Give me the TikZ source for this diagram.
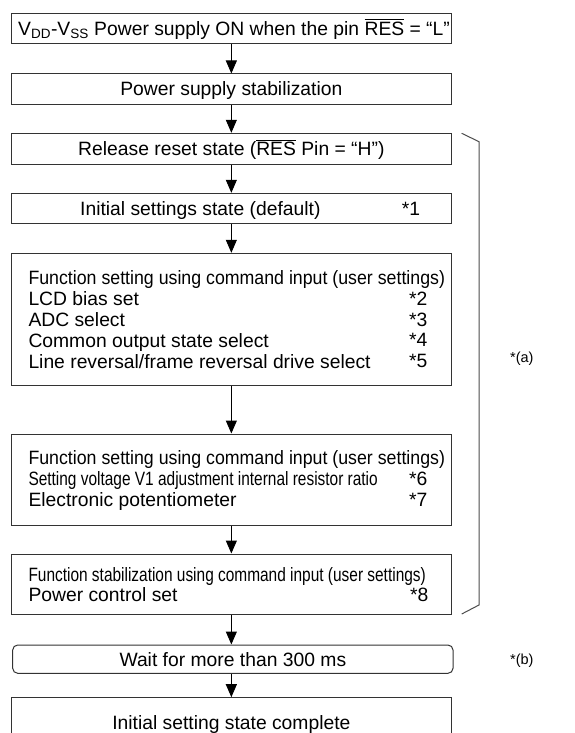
\documentclass[tikz,border=0pt]{standalone}
\usepackage{fontspec}
\setmainfont{Liberation Sans}
\usepackage{graphicx}
\usetikzlibrary{arrows.meta}
\newsavebox\ovbox
\newcommand\ovl[1]{\sbox\ovbox{#1}\rlap{\rule[\dimexpr\ht\ovbox+1.6pt\relax]{\wd\ovbox}{0.9pt}}\usebox\ovbox}
\tikzset{
  box/.style={draw=black!80, line width=1pt, inner sep=0pt, minimum width=439.3pt},
  txt/.style={inner sep=0pt, font=\fontsize{19.3}{21}\selectfont},
  lbl/.style={inner sep=0pt, font=\fontsize{14.5}{16}\selectfont},
  arr/.style={draw=black, line width=1pt, -{Triangle[length=13pt,width=11pt]}},
  brk/.style={draw=black!70, line width=1pt}
}
\begin{document}
\begin{tikzpicture}[x=1pt,y=-1pt]
\useasboundingbox (0,0) rectangle (574,733);
\clip (0,0) rectangle (574,733);
% boxes
\node[box, minimum height=30.4pt] (b1) at (231.35,28.5) {};
\node[box, minimum height=30.3pt] (b2) at (231.35,89.15) {};
\node[box, minimum height=30.7pt] (b3) at (231.35,148.65) {};
\node[box, minimum height=30pt] (b4) at (231.35,208.3) {};
\node[box, minimum height=131.7pt] (b5) at (231.35,319.15) {};
\node[box, minimum height=91pt] (b6) at (231.35,479.5) {};
\node[box, minimum height=60pt] (b7) at (231.35,584) {};
\node[box, rounded corners=5pt, minimum width=440.3pt, minimum height=28.3pt] (b8) at (232.85,659.15) {};
\node[box, minimum height=44pt] (b9) at (231.35,719.7) {};
% texts
\node[txt, anchor=base] (t1) at (234,35.4) {V\textsubscript{DD}-V\textsubscript{SS} Power supply ON when the pin \ovl{RES} = “L”};
\node[txt, anchor=base] (t2) at (231.35,96) {Power supply stabilization};
\node[txt, anchor=base] (t3) at (231.35,155.5) {Release reset state (\ovl{RES} Pin = “H”)};
\node[txt, anchor=base west] (t4) at (80,215.2) {Initial settings state (default)};
\node[txt, anchor=base west] (s1) at (401.7,215.2) {*1};
\node[txt, anchor=base west] (t5a) at (28.3,284) {\scalebox{0.92}[1]{Function setting using command input (user settings)}};
\node[txt, anchor=base west] (t5b) at (28.3,305) {LCD bias set};
\node[txt, anchor=base west] (t5c) at (28.3,326) {ADC select};
\node[txt, anchor=base west] (t5d) at (28.3,347) {Common output state select};
\node[txt, anchor=base west] (t5e) at (28.3,368) {Line reversal/frame reversal drive select};
\node[txt, anchor=base west] (s2) at (409,305) {*2};
\node[txt, anchor=base west] (s3) at (409,326) {*3};
\node[txt, anchor=base west] (s4) at (409,346) {*4};
\node[txt, anchor=base west] (s5) at (409,367) {*5};
\node[txt, anchor=base west] (t6a) at (28.3,464) {\scalebox{0.92}[1]{Function setting using command input (user settings)}};
\node[txt, anchor=base west] (t6b) at (28.3,485) {\scalebox{0.8}[1]{Setting voltage V1 adjustment internal resistor ratio}};
\node[txt, anchor=base west] (t6c) at (28.3,506) {Electronic potentiometer};
\node[txt, anchor=base west] (s6) at (409,485) {*6};
\node[txt, anchor=base west] (s7) at (409,506) {*7};
\node[txt, anchor=base west] (t7a) at (28.3,581) {\scalebox{0.8}[1]{Function stabilization using command input (user settings)}};
\node[txt, anchor=base west] (t7b) at (28.3,601) {Power control set};
\node[txt, anchor=base west] (s8) at (410,601) {*8};
\node[txt, anchor=base] (t8) at (232.85,666) {Wait for more than 300 ms};
\node[txt, anchor=base] (t9) at (231.35,729) {Initial setting state complete};
\node[lbl, anchor=base west] (la) at (510,362) {*(a)};
\node[lbl, anchor=base west] (lb) at (510,664) {*(b)};
% arrows
\draw[arr] (b1.south) -- (b2.north);
\draw[arr] (b2.south) -- (b3.north);
\draw[arr] (b3.south) -- (b4.north);
\draw[arr] (b4.south) -- (b5.north);
\draw[arr] (b5.south) -- (b6.north);
\draw[arr] (b6.south) -- (b7.north);
\draw[arr] (b7.south) -- (b7.south |- b8.north);
\draw[arr] (b7.south |- b8.south) -- (b9.north);
% bracket
\coordinate (k1) at (461.7,133.3);
\coordinate (k2) at (479,141.7);
\coordinate (k3) at (479,605);
\coordinate (k4) at (461.7,614);
\draw[brk] (k1) -- (k2) -- (k3) -- (k4);
\end{tikzpicture}
\end{document}
